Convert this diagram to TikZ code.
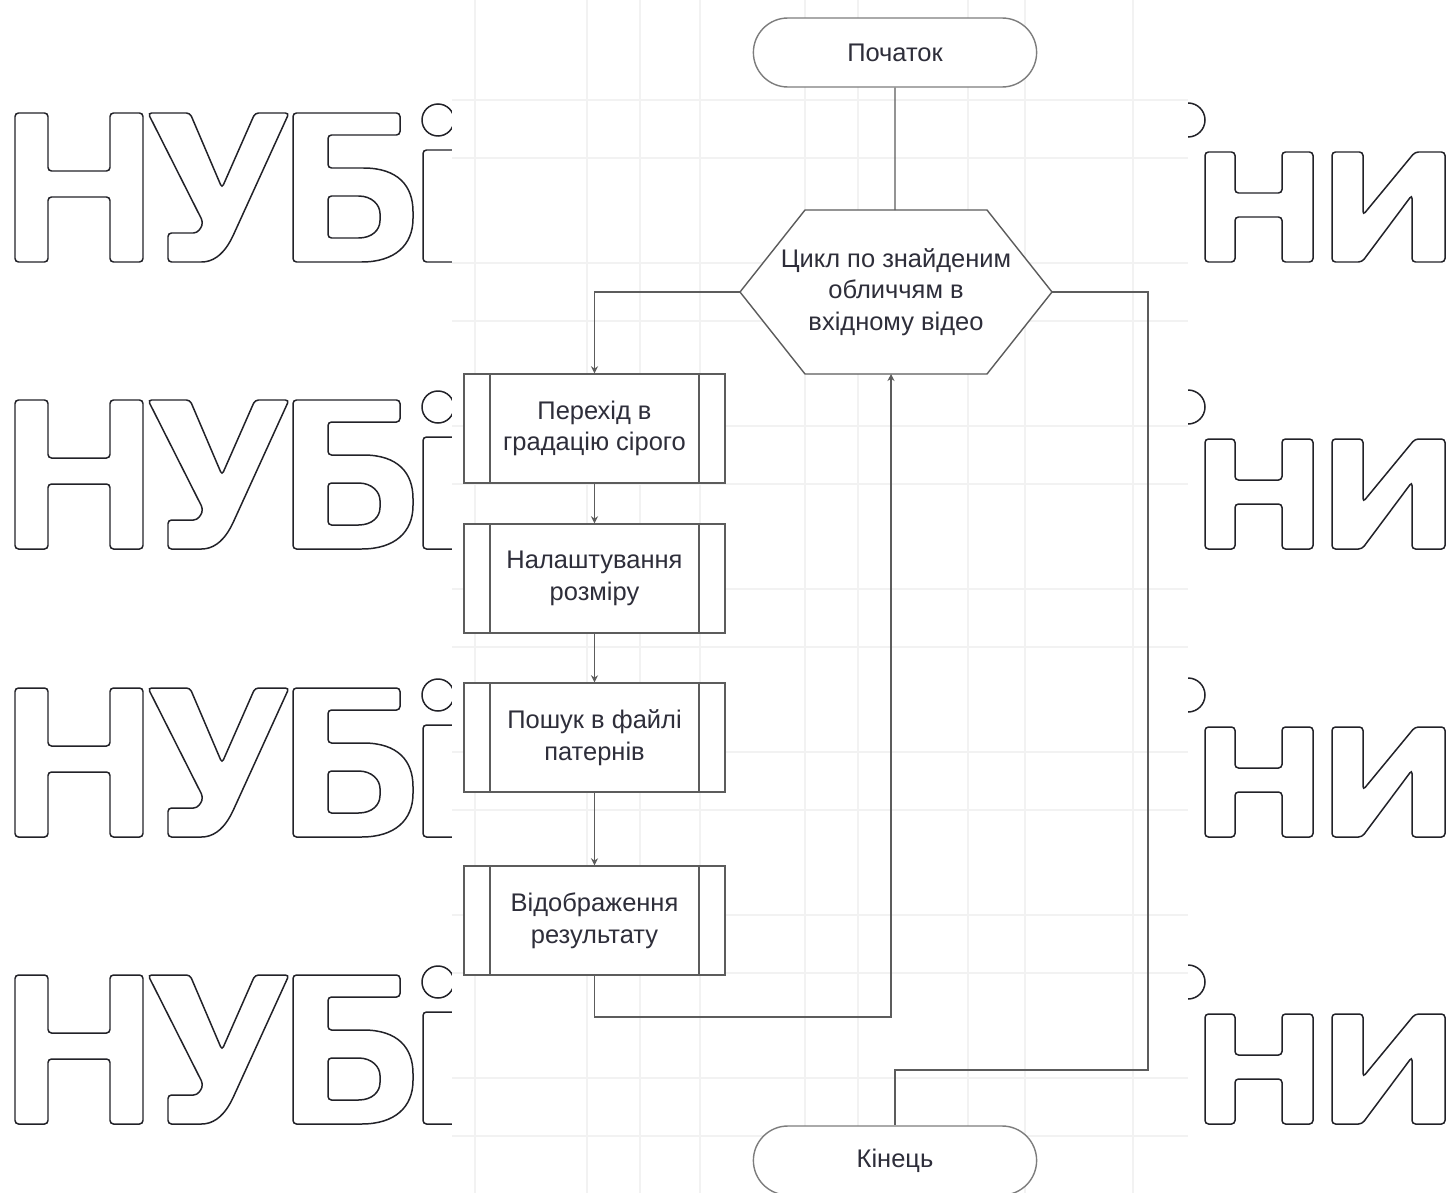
\documentclass[tikz,border=0pt]{standalone}
\usepackage{fontspec}
\setmainfont{Liberation Sans}
\usetikzlibrary{shapes.misc, arrows.meta, positioning}
\definecolor{wmink}{HTML}{222228}
\definecolor{lineg}{HTML}{5C5C5C}
\definecolor{txtg}{HTML}{2E2E3A}
\definecolor{gridg}{HTML}{F2F2F2}

\begin{document}
\begin{tikzpicture}[x=0.02cm, y=-0.02cm,
    wm/.style={draw=wmink, line width=0.85pt, rounded corners=2pt},
    lbl/.style={text=txtg, align=center, font=\fontsize{14.5}{18}\selectfont},
    term/.style={lbl, rounded rectangle, draw=lineg!80, line width=0.8pt, fill=white,
        minimum width=5.9cm, minimum height=1.38cm},
    subproc/.style={lbl, rectangle, draw=lineg, line width=0.8pt, fill=white,
        minimum width=5.22cm, minimum height=2.18cm,
        path picture={
            \draw[lineg, line width=0.8pt]
                ([xshift=0.52cm]path picture bounding box.north west) --
                ([xshift=0.52cm]path picture bounding box.south west);
            \draw[lineg, line width=0.8pt]
                ([xshift=-0.52cm]path picture bounding box.north east) --
                ([xshift=-0.52cm]path picture bounding box.south east);
        }},
    conn/.style={draw=lineg, line width=0.8pt},
    tip/.style={-{Stealth[length=4pt, width=4pt]}}]

    \useasboundingbox (0,0) rectangle (1447,1193);
    \fill[white] (0,0) rectangle (1447,1193);

    % Watermark rows
    \foreach \dy in {0,287,575,862} {
        \begin{scope}[shift={(0,\dy)}]
            % H
            \draw[wm] (15,113) -- (48,113) -- (48,171) -- (110,171) -- (110,113) -- (143,113)
                -- (143,262) -- (110,262) -- (110,197) -- (48,197) -- (48,262) -- (15,262) -- cycle;
            % U
            \draw[wm] (148,113) -- (190,113) -- (222,188) -- (255,113) -- (289,113) -- (232,238)
                .. controls (222,256) and (212,262) .. (198,262) -- (176,262) -- (168,262)
                -- (168,233) -- (190,233) .. controls (198,233) and (201,228) .. (203,222) -- cycle;
            % B
            \draw[wm] (293,113) -- (400,113) -- (400,135) -- (328,135) -- (328,168) -- (360,168)
                .. controls (398,168) and (413,186) .. (413,215)
                .. controls (413,245) and (395,262) .. (358,262) -- (293,262) -- cycle;
            \draw[wm] (328,196) -- (355,196) .. controls (372,196) and (380,205) .. (380,217)
                .. controls (380,230) and (372,238) .. (355,238) -- (328,238) -- cycle;
            % i
            \draw[wmink, line width=0.85pt] (438,120) circle[radius=16];
            \draw[wm] (423,150) -- (470,150) -- (470,262) -- (423,262) -- cycle;
            % right side
            \draw[wmink, line width=0.85pt] (1188,120) circle[radius=17];
            \draw[wm] (1205,152) -- (1235,152) -- (1235,193) -- (1282,193) -- (1282,152) -- (1313,152)
                -- (1313,262) -- (1282,262) -- (1282,217) -- (1235,217) -- (1235,262) -- (1205,262) -- cycle;
            \draw[wm] (1332,152) -- (1363,152) -- (1363,215) -- (1415,152) -- (1445,152) -- (1445,262)
                -- (1412,262) -- (1412,195) -- (1362,262) -- (1332,262) -- cycle;
        \end{scope}
    }

    % Sheet with grid
    \fill[white] (452,0) rectangle (1188,1193);
    \foreach \k in {0,...,6} {
        \draw[gridg, line width=0.8pt] (452,100+163*\k) -- (1188,100+163*\k);
        \draw[gridg, line width=0.8pt] (452,158+163*\k) -- (1188,158+163*\k);
    }
    \foreach \gx in {475,587,640,700,805,858,968,1025,1133} {
        \draw[gridg, line width=0.8pt] (\gx,0) -- (\gx,1193);
    }

    % Start and end
    \node[term] (start) at (895,52.5) {Початок};
    \node[term] (finish) at (895,1160.5) {Кінець};

    % Loop hexagon
    \draw[lineg, line width=0.8pt, fill=white]
        (805,210) -- (987,210) -- (1052,292) -- (987,374) -- (805,374) -- (740,292) -- cycle;
    \node[lbl] (loop) at (896,292) {Цикл по знайденим\\обличчям в\\вхідному відео};
    \coordinate (loopN) at (895,210);
    \coordinate (loopW) at (740,292);
    \coordinate (loopE) at (1052,292);
    \coordinate (loopS) at (891,374);

    % Steps
    \node[subproc] (gray)   at (594.5,428.5) {Перехід в\\градацію сірого};
    \node[subproc] (resize) at (594.5,578.5) {Налаштування\\розміру};
    \node[subproc] (search) at (594.5,737.5) {Пошук в файлі\\патернів};
    \node[subproc] (show)   at (594.5,920.5) {Відображення\\результату};

    % Connectors
    \coordinate (backturn) at (594.5,1017);
    \coordinate (exitturn) at (1148,1070);
    \draw[conn] (start) -- (loopN);
    \draw[conn, tip] (loopW) -| (gray.north);
    \draw[conn, tip] (gray) -- (resize);
    \draw[conn, tip] (resize) -- (search);
    \draw[conn, tip] (search) -- (show);
    \draw[conn, tip] (show.south) -- (backturn) -| (loopS);
    \draw[conn] (loopE) -| (exitturn) -| (finish.north);
\end{tikzpicture}
\end{document}
